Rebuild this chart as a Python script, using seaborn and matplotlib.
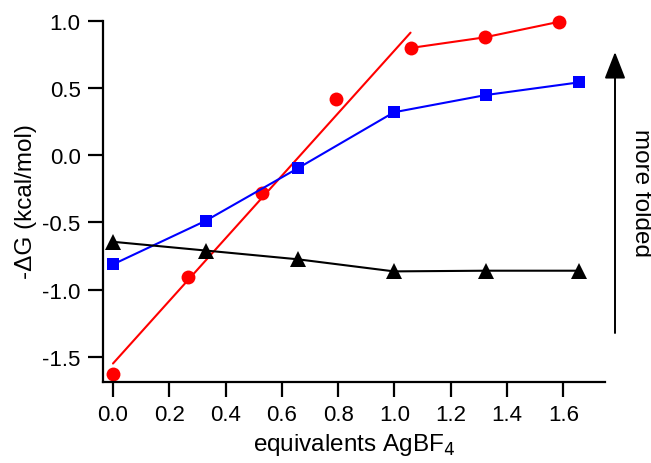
import matplotlib
matplotlib.use("Agg")
import matplotlib.pyplot as plt
from matplotlib.patches import FancyArrowPatch
import seaborn as sns

# Data
red_x = [0.0, 0.265, 0.53, 0.793, 1.057, 1.32, 1.583]
red_y = [-1.63, -0.905, -0.283, 0.417, 0.796, 0.875, 0.99]
red_fit_x = [0.0, 1.057]
red_fit_y = [-1.55, 0.91]

blue_x = [0.0, 0.329, 0.656, 0.998, 1.324, 1.654]
blue_y = [-0.813, -0.489, -0.099, 0.318, 0.446, 0.54]

black_x = [0.0, 0.329, 0.656, 0.998, 1.324, 1.654]
black_y = [-0.645, -0.71, -0.775, -0.865, -0.86, -0.86]

x_ticks = [0.0, 0.2, 0.4, 0.6, 0.8, 1.0, 1.2, 1.4, 1.6]
y_ticks = [-1.5, -1.0, -0.5, 0.0, 0.5, 1.0]

sns.set_style("ticks")
plt.rcParams['font.family'] = ['Liberation Sans', 'DejaVu Sans']
plt.rcParams['text.color'] = 'black'
plt.rcParams['axes.labelcolor'] = 'black'

fig = plt.figure(figsize=(6.51, 4.64), dpi=100)
ax = fig.add_axes([0.158, 0.175, 0.771, 0.78])

lw = 1.5
ms = 10

# red: linear fit over first points, then connecting line over plateau
sns.lineplot(x=red_fit_x, y=red_fit_y, color='red', lw=lw, ax=ax)
sns.lineplot(x=red_x[4:], y=red_y[4:], color='red', lw=lw, ax=ax)
sns.lineplot(x=red_x, y=red_y, color='red', lw=0, marker='o', markersize=ms,
             markeredgewidth=0, ax=ax, clip_on=False)

sns.lineplot(x=blue_x, y=blue_y, color='blue', lw=lw, marker='s', markersize=ms - 1,
             markeredgewidth=0, ax=ax, clip_on=False)
sns.lineplot(x=black_x, y=black_y, color='black', lw=lw, marker='^', markersize=ms + 1,
             markeredgewidth=0, ax=ax, clip_on=False)

ax.set_xlim(-0.036, 1.747)
ax.set_ylim(-1.686, 1.005)
ax.set_xticks(x_ticks)
ax.set_xticklabels([f"{v:.1f}" for v in x_ticks])
ax.set_yticks(y_ticks)
ax.set_yticklabels([f"{v:.1f}" for v in y_ticks])

for side in ['top', 'right']:
    ax.spines[side].set_visible(False)
for side in ['left', 'bottom']:
    ax.spines[side].set_linewidth(1.6)
    ax.spines[side].set_color('black')
ax.spines['left'].set_bounds(-1.686, 1.0)

ax.tick_params(axis='both', direction='out', length=11, width=1.6,
               labelsize=16, pad=5, colors='black')

ax.set_xlabel('equivalents AgBF$_4$', fontsize=17.5, labelpad=4)
ax.set_ylabel('-ΔG (kcal/mol)', fontsize=17.5, labelpad=4)

# "more folded" arrow on the right
arrow = FancyArrowPatch((615 / 651, 1 - 334 / 464), (615 / 651, 1 - 53 / 464),
                        arrowstyle='-|>,head_length=1.1,head_width=0.43',
                        mutation_scale=15, lw=1.4, color='black',
                        shrinkA=0, shrinkB=0, transform=fig.transFigure)
fig.add_artist(arrow)
fig.text(641 / 651, 1 - 193 / 464, 'more folded', rotation=270, fontsize=17.5,
         ha='center', va='center', color='black')

plt.savefig('out.png', dpi=100)
plt.close()
